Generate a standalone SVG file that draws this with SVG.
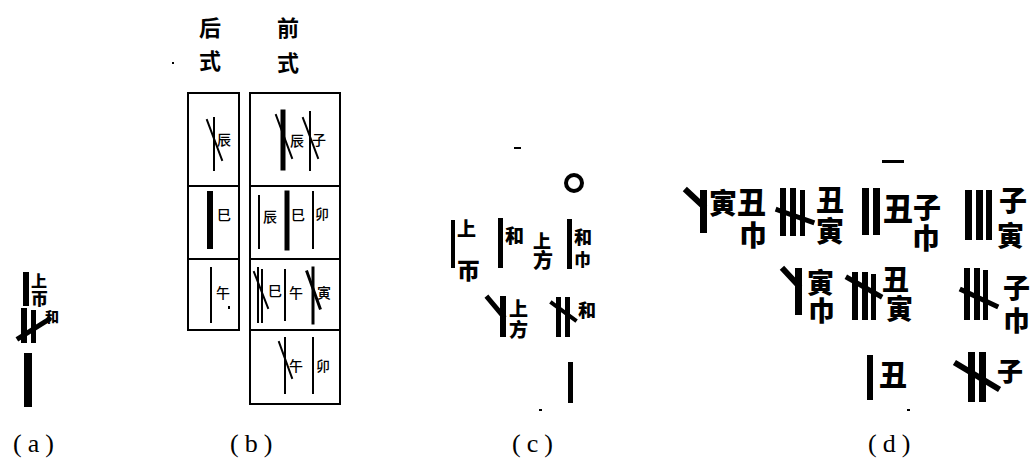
<svg xmlns="http://www.w3.org/2000/svg" width="1034" height="463" viewBox="0 0 1034 463">
<style>
.bg{fill:#fff}
.r{fill:#000}
.s{stroke:#000;fill:none;stroke-linecap:square}
.hw{font-family:"Noto Sans CJK SC",sans-serif;font-size:14px;font-weight:500;fill:#000}
.hd{font-family:"Noto Sans CJK SC",sans-serif;font-size:22px;font-weight:700;fill:#000}
.bd{font-family:"Noto Sans CJK SC",sans-serif;font-weight:900;fill:#000}
.lab{font-family:"Liberation Serif",serif;font-size:26px;letter-spacing:6px;fill:#000}
</style>
<rect class="bg" x="0" y="0" width="1034" height="463"/>

<g id="panel-a">
  <rect class="r" x="23" y="272" width="6" height="34"/>
  <text class="bd" x="31" y="287" font-size="16">上</text>
  <text class="bd" x="31" y="305" font-size="17">帀</text>
  <rect class="r" x="21" y="308" width="6" height="35"/>
  <rect class="r" x="31" y="310" width="5" height="33"/>
  <line class="s" x1="19" y1="338" x2="48" y2="320" stroke-width="5"/>
  <text class="bd" x="45" y="322" font-size="14">和</text>
  <rect class="r" x="24" y="353" width="8" height="54"/>
</g>

<g id="panel-b">
  <text class="hd" x="199" y="36">后</text>
  <text class="hd" x="199" y="69">式</text>
  <text class="hd" x="277" y="36">前</text>
  <text class="hd" x="277" y="71">式</text>
  <rect class="r" x="172" y="62" width="2" height="2"/>
  <g stroke="#000" stroke-width="2" fill="none">
    <rect x="188" y="93" width="51" height="237"/>
    <line x1="188" y1="186" x2="239" y2="186"/>
    <line x1="188" y1="259" x2="239" y2="259"/>
    <rect x="250" y="93" width="90" height="311"/>
    <line x1="250" y1="186" x2="340" y2="186"/>
    <line x1="250" y1="259" x2="340" y2="259"/>
    <line x1="250" y1="330" x2="340" y2="330"/>
  </g>
  <!-- row 1 -->
  <line class="s" x1="214" y1="118" x2="214" y2="170" stroke-width="2"/>
  <line class="s" x1="207" y1="120" x2="222" y2="160" stroke-width="2"/>
  <text class="hw" x="217" y="145">辰</text>
  <line class="s" x1="283" y1="112" x2="283" y2="168" stroke-width="5"/>
  <line class="s" x1="276" y1="115" x2="292" y2="158" stroke-width="2"/>
  <text class="hw" x="290" y="146">辰</text>
  <line class="s" x1="310" y1="112" x2="310" y2="170" stroke-width="2"/>
  <line class="s" x1="303" y1="118" x2="318" y2="158" stroke-width="2"/>
  <text class="hw" x="312" y="145">子</text>
  <!-- row 2 -->
  <line class="s" x1="210" y1="194" x2="210" y2="246" stroke-width="6"/>
  <text class="hw" x="217" y="220">巳</text>
  <line class="s" x1="259" y1="196" x2="259" y2="248" stroke-width="2"/>
  <text class="hw" x="263" y="222">辰</text>
  <line class="s" x1="287" y1="193" x2="287" y2="248" stroke-width="5"/>
  <text class="hw" x="291" y="220">巳</text>
  <line class="s" x1="313" y1="192" x2="313" y2="248" stroke-width="2"/>
  <text class="hw" x="315" y="219">卯</text>
  <!-- row 3 -->
  <line class="s" x1="211" y1="268" x2="211" y2="322" stroke-width="2"/>
  <text class="hw" x="216" y="298">午</text>
  <rect class="r" x="228" y="306" width="2" height="3"/>
  <line class="s" x1="258" y1="268" x2="258" y2="322" stroke-width="2"/>
  <line class="s" x1="262" y1="270" x2="262" y2="322" stroke-width="2"/>
  <line class="s" x1="254" y1="272" x2="268" y2="308" stroke-width="2"/>
  <text class="hw" x="268" y="296">巳</text>
  <line class="s" x1="285" y1="270" x2="285" y2="320" stroke-width="2"/>
  <text class="hw" x="289" y="298">午</text>
  <line class="s" x1="313" y1="268" x2="313" y2="323" stroke-width="3"/>
  <line class="s" x1="307" y1="272" x2="320" y2="308" stroke-width="3"/>
  <text class="hw" x="317" y="298">寅</text>
  <!-- row 4 -->
  <line class="s" x1="285" y1="338" x2="285" y2="393" stroke-width="2"/>
  <line class="s" x1="279" y1="342" x2="292" y2="378" stroke-width="2"/>
  <text class="hw" x="289" y="371">午</text>
  <line class="s" x1="313" y1="338" x2="313" y2="393" stroke-width="2"/>
  <text class="hw" x="316" y="371">卯</text>
</g>

<g id="panel-c">
  <rect class="r" x="514" y="147" width="7" height="2"/>
  <circle cx="574" cy="183" r="8" fill="none" stroke="#000" stroke-width="4"/>
  <rect class="r" x="451" y="220" width="4" height="48"/>
  <text class="bd" x="457" y="236" font-size="19">上</text>
  <text class="bd" x="457" y="279" font-size="23">帀</text>
  <rect class="r" x="498" y="218" width="5" height="50"/>
  <text class="bd" x="505" y="243" font-size="19">和</text>
  <text class="bd" x="533" y="248" font-size="18">上</text>
  <text class="bd" x="533" y="268" font-size="20">方</text>
  <rect class="r" x="567" y="219" width="5" height="50"/>
  <text class="bd" x="574" y="244" font-size="18">和</text>
  <text class="bd" x="574" y="266" font-size="17">巾</text>
  <rect class="r" x="500" y="296" width="6" height="41"/>
  <line class="s" x1="488" y1="298" x2="503" y2="316" stroke-width="5"/>
  <text class="bd" x="509" y="316" font-size="19">上</text>
  <text class="bd" x="509" y="337" font-size="19">方</text>
  <rect class="r" x="556" y="297" width="5" height="40"/>
  <rect class="r" x="565" y="297" width="5" height="40"/>
  <line class="s" x1="552" y1="303" x2="575" y2="320" stroke-width="4"/>
  <text class="bd" x="578" y="317" font-size="18">和</text>
  <rect class="r" x="568" y="362" width="5" height="41"/>
  <rect class="r" x="539" y="409" width="3" height="2"/>
</g>

<g id="panel-d">
  <rect class="r" x="882" y="160" width="22" height="3"/>
  <!-- row 1 -->
  <rect class="r" x="700" y="190" width="7" height="43"/>
  <line class="s" x1="687" y1="191" x2="703" y2="206" stroke-width="6"/>
  <text class="bd" x="709" y="214" font-size="28">寅</text>
  <text class="bd" x="737" y="214" font-size="29">丑</text>
  <text class="bd" x="739" y="246" font-size="28">巾</text>
  <rect class="r" x="780" y="188" width="6" height="48"/>
  <rect class="r" x="790" y="188" width="6" height="48"/>
  <rect class="r" x="800" y="190" width="5" height="46"/>
  <line class="s" x1="778" y1="210" x2="812" y2="222" stroke-width="5"/>
  <text class="bd" x="816" y="211" font-size="28">丑</text>
  <text class="bd" x="816" y="242" font-size="28">寅</text>
  <rect class="r" x="862" y="188" width="7" height="47"/>
  <rect class="r" x="873" y="188" width="7" height="47"/>
  <text class="bd" x="883" y="220" font-size="30">丑</text>
  <text class="bd" x="913" y="218" font-size="28">子</text>
  <text class="bd" x="912" y="249" font-size="28">巾</text>
  <rect class="r" x="965" y="190" width="7" height="50"/>
  <rect class="r" x="976" y="190" width="7" height="50"/>
  <rect class="r" x="986" y="190" width="6" height="50"/>
  <text class="bd" x="999" y="211" font-size="28">子</text>
  <text class="bd" x="997" y="246" font-size="27">寅</text>
  <!-- row 2 -->
  <rect class="r" x="795" y="268" width="7" height="47"/>
  <line class="s" x1="784" y1="270" x2="798" y2="285" stroke-width="6"/>
  <text class="bd" x="807" y="293" font-size="27">寅</text>
  <text class="bd" x="808" y="321" font-size="27">巾</text>
  <rect class="r" x="852" y="272" width="6" height="48"/>
  <rect class="r" x="862" y="272" width="6" height="48"/>
  <rect class="r" x="871" y="274" width="5" height="46"/>
  <line class="s" x1="848" y1="278" x2="880" y2="296" stroke-width="5"/>
  <text class="bd" x="882" y="290" font-size="27">丑</text>
  <text class="bd" x="886" y="319" font-size="27">寅</text>
  <rect class="r" x="964" y="268" width="6" height="52"/>
  <rect class="r" x="974" y="268" width="6" height="52"/>
  <rect class="r" x="983" y="270" width="5" height="50"/>
  <line class="s" x1="962" y1="290" x2="996" y2="306" stroke-width="5"/>
  <text class="bd" x="1003" y="298" font-size="27">子</text>
  <text class="bd" x="1003" y="331" font-size="27">巾</text>
  <!-- row 3 -->
  <rect class="r" x="867" y="355" width="6" height="45"/>
  <text class="bd" x="879" y="386" font-size="28">丑</text>
  <rect class="r" x="968" y="352" width="7" height="50"/>
  <rect class="r" x="979" y="352" width="7" height="50"/>
  <line class="s" x1="957" y1="364" x2="997" y2="388" stroke-width="6"/>
  <text class="bd" x="997" y="381" font-size="26">子</text>
  <rect class="r" x="907" y="409" width="3" height="2"/>
</g>

<g id="labels">
  <text class="lab" x="13" y="452">(a)</text>
  <text class="lab" x="230" y="452">(b)</text>
  <text class="lab" x="512" y="452">(c)</text>
  <text class="lab" x="868" y="452">(d)</text>
</g>
</svg>
